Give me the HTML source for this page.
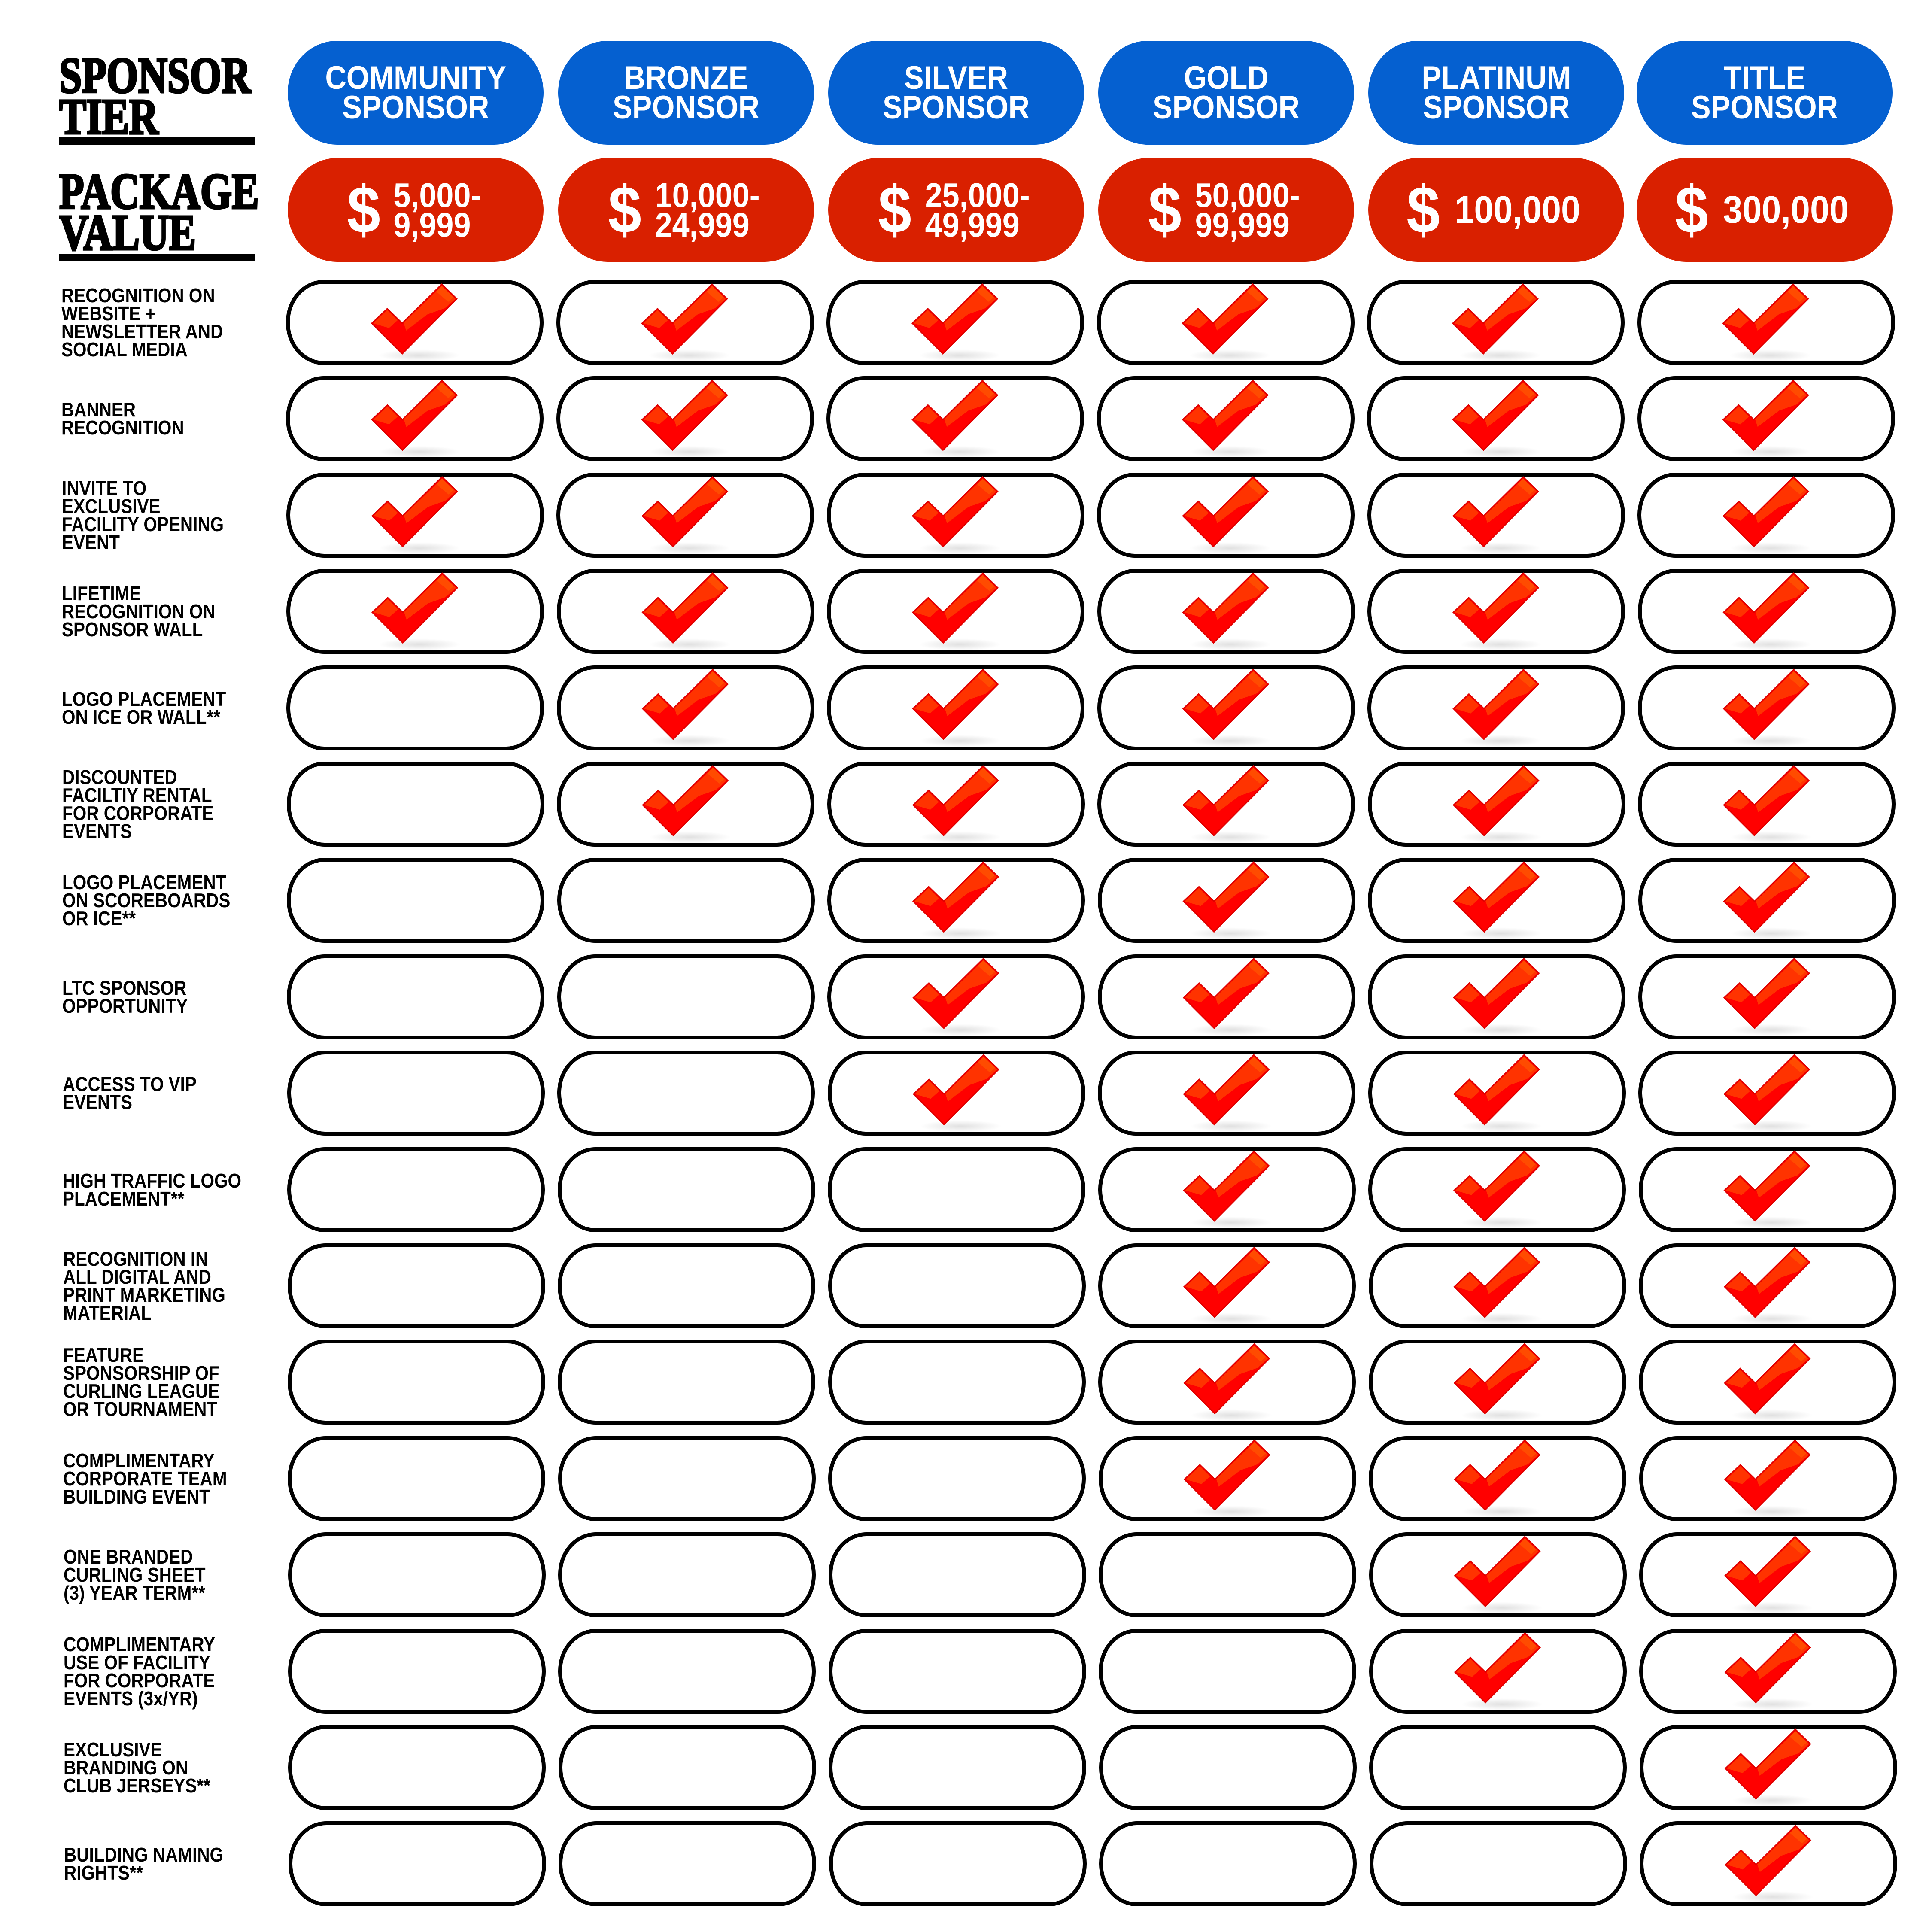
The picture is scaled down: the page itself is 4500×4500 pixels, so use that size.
<!DOCTYPE html>
<html><head><meta charset="utf-8"><style>
body{margin:0;width:4500px;height:4500px;background:#fff;position:relative;overflow:hidden;font-family:"Liberation Sans",sans-serif;font-weight:bold}
.a{position:absolute}
.hd{position:absolute;background:#0560d0;border-radius:115px/121px;width:596px;height:242px;top:95px;display:flex;align-items:center;justify-content:center;color:#fff;font-size:76px;line-height:69px;text-align:center}
.hd span,.pr span{display:inline-block;transform:scaleX(.9)}
.pr{position:absolute;background:#d92000;border-radius:115px/121px;width:596px;height:242px;top:368px;display:flex;align-items:center;justify-content:center;color:#fff}
.dl{font-size:155px;line-height:150px;margin-right:14px;transform:scaleX(.95)}
.nm{font-size:80px;line-height:69px;text-align:left}
.c{position:absolute;box-sizing:border-box;width:600px;height:198px;border:9px solid #000;border-radius:88px/98px;background:#fff}
.lb{position:absolute;left:143px;width:600px;height:198px;display:flex;align-items:center}
.lb div{font-size:46px;line-height:42px;transform:scaleX(.88);transform-origin:left center;white-space:nowrap}
.big{position:absolute;left:138px;font-size:118px;line-height:96px;transform:scaleX(.8);transform-origin:left top;white-space:nowrap;font-family:"Liberation Serif","Liberation Sans",serif;font-weight:bold;-webkit-text-stroke:5px #000}
.bar{position:absolute;left:138px;width:456px;height:17px;background:#000}
</style></head><body>
<div class="big" style="top:128px">SPONSOR<br>TIER</div>
<div class="bar" style="top:320px"></div>
<div class="big" style="top:398px">PACKAGE<br>VALUE</div>
<div class="bar" style="top:591px"></div>

<div class="hd" style="left:670px"><span>COMMUNITY<br>SPONSOR</span></div>
<div class="hd" style="left:1300px"><span>BRONZE<br>SPONSOR</span></div>
<div class="hd" style="left:1929px"><span>SILVER<br>SPONSOR</span></div>
<div class="hd" style="left:2558px"><span>GOLD<br>SPONSOR</span></div>
<div class="hd" style="left:3187px"><span>PLATINUM<br>SPONSOR</span></div>
<div class="hd" style="left:3812px"><span>TITLE<br>SPONSOR</span></div>

<div class="pr" style="left:670px"><span class="dl">$</span><span class="nm">5,000-<br>9,999</span></div>
<div class="pr" style="left:1300px"><span class="dl">$</span><span class="nm">10,000-<br>24,999</span></div>
<div class="pr" style="left:1929px"><span class="dl">$</span><span class="nm">25,000-<br>49,999</span></div>
<div class="pr" style="left:2558px"><span class="dl">$</span><span class="nm">50,000-<br>99,999</span></div>
<div class="pr" style="left:3187px"><span class="dl">$</span><span class="nm" style="font-size:90px">100,000</span></div>
<div class="pr" style="left:3812px"><span class="dl">$</span><span class="nm" style="font-size:90px">300,000</span></div>

<div id="grid"></div>
<svg class="a" style="left:0;top:0" width="4500" height="4500" id="ck">
<defs>
<radialGradient id="sh"><stop offset="0" stop-color="#000" stop-opacity=".12"/><stop offset="1" stop-color="#000" stop-opacity="0"/></radialGradient>
<g id="chk">
<ellipse cx="110" cy="166" rx="95" ry="14" fill="url(#sh)"/>
<polygon points="0,91 36,57 71,91 163,0 198,34 71,162" fill="#ff0000" stroke="#e00000" stroke-width="3"/>
<polygon points="3,91 36,60 60,84 40,102" fill="#ff3300"/>
<polygon points="74,90 163,4 195,34 170,56 130,70 80,108" fill="#ff3300"/>
<polygon points="150,17 163,4 190,30 178,41" fill="#ff5500" opacity=".7"/>
</g></defs>
</svg>
<script>
var labels=[
["RECOGNITION ON","WEBSITE +","NEWSLETTER AND","SOCIAL MEDIA"],
["BANNER","RECOGNITION"],
["INVITE TO","EXCLUSIVE","FACILITY OPENING","EVENT"],
["LIFETIME","RECOGNITION ON","SPONSOR WALL"],
["LOGO PLACEMENT","ON ICE OR WALL**"],
["DISCOUNTED","FACILTIY RENTAL","FOR CORPORATE","EVENTS"],
["LOGO PLACEMENT","ON SCOREBOARDS","OR ICE**"],
["LTC SPONSOR","OPPORTUNITY"],
["ACCESS TO VIP","EVENTS"],
["HIGH TRAFFIC LOGO","PLACEMENT**"],
["RECOGNITION IN","ALL DIGITAL AND","PRINT MARKETING","MATERIAL"],
["FEATURE","SPONSORSHIP OF","CURLING LEAGUE","OR TOURNAMENT"],
["COMPLIMENTARY","CORPORATE TEAM","BUILDING EVENT"],
["ONE BRANDED","CURLING SHEET","(3) YEAR TERM**"],
["COMPLIMENTARY","USE OF FACILITY","FOR CORPORATE","EVENTS (3x/YR)"],
["EXCLUSIVE","BRANDING ON","CLUB JERSEYS**"],
["BUILDING NAMING","RIGHTS**"]];
var start=[0,0,0,0,1,1,2,2,2,3,3,3,3,4,4,5,5];
var h='',s='';
for(var r=0;r<17;r++){
 var ty=652+r*224.4, dx=r*0.35;
 h+='<div class="lb" style="top:'+ty+'px;left:'+(143+dx)+'px"><div>'+labels[r].join('<br>')+'</div></div>';
 for(var c=0;c<6;c++){
  var lx=666+c*629.5+dx;
  h+='<div class="c" style="left:'+lx+'px;top:'+ty+'px"></div>';
  if(c>=start[r]) s+='<use href="#chk" x="'+(lx+200)+'" y="'+(ty+10)+'"/>';
 }
}
document.getElementById('grid').innerHTML=h;
document.getElementById('ck').insertAdjacentHTML('beforeend',s);
</script>
</body></html>
